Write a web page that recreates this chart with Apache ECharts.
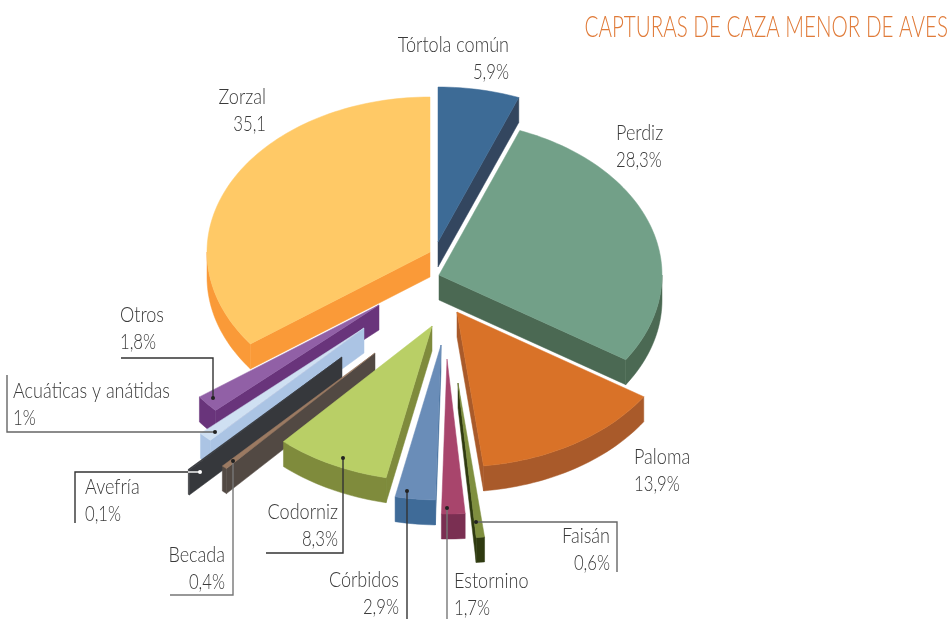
<!DOCTYPE html>
<html>
<head>
<meta charset="utf-8">
<style>html,body{margin:0;padding:0;background:#fff}#main{width:952px;height:619px}</style>
<script src="https://cdn.jsdelivr.net/npm/echarts@6/dist/echarts.min.js"></script>
</head>
<body>
<div id="main"></div>
<script>
// clockwise from 12 o'clock, as in the original
var categories = ['Tórtola común','Perdiz','Paloma','Faisán','Estornino','Córbidos','Codorniz','Becada','Avefría','Acuáticas y anátidas','Otros','Zorzal'];
var shares = [5.9,28.3,13.9,0.6,1.7,2.9,8.3,0.4,0.1,1,1.8,35.1];
var shareLabels = ['5,9%','28,3%','13,9%','0,6%','1,7%','2,9%','8,3%','0,4%','0,1%','1%','1,8%','35,1'];
var titleText = 'CAPTURAS DE CAZA MENOR DE AVES';

// where each exploded wedge's tip sits
var wedgeTips = [[438,242],[439,275],[457,312],[458,383],[447,359],[441,345],[432,326],[375,353],[342,357],[364,328],[379,305],[430,252]];
var topColors = ['#3d6b96','#72a088','#d97228','#7f8f3f','#a8456c','#6a8db8','#b9cf66','#9b7a62','#36383c','#cfe0f2','#9160a6','#ffc966'];
var sideColors = ['#33465f','#4b6953','#a95a2a','#2f3a10','#7a2f52','#3f6b98','#7f8b3c','#524943','#36383c','#abc4e4','#69347b','#fa9a38'];

var RX = 223, RY = 155, DEPTH = 25;
var FONT = 'Lato';

// label anchor: x, y of first line, align
var labelSpots = [[509,45,'right'],[616,133,'left'],[634,457,'left'],[610,536,'right'],[454,581,'left'],[399,580,'right'],[338,512,'right'],[225,555,'right'],[85,487,'left'],[13,391,'left'],[120,315,'left'],[266,97,'right']];
var leaderLines = {
    3: [[617,572],[617,522],[476,522]],
    4: [[447,619],[447,508]],
    5: [[407,619],[407,491]],
    6: [[266,553],[343,553],[343,458]],
    7: [[170,595],[233,595],[233,461]],
    8: [[75,523],[75,472],[188,472]],
    9: [[7,375],[7,432],[215,432]],
    10: [[121,358],[213,358],[213,398]]
};
var leaderColors = { 3: '#666', 4: '#777', 5: '#333', 6: '#333', 7: '#777', 8: '#333', 9: '#666', 10: '#333' };

var total = shares.reduce(function (a, b) { return a + b; }, 0);
var starts = [];
shares.reduce(function (sum, v, i) { starts[i] = sum; return sum + v; }, 0);

function rim(tip, deg, drop) {
    var r = deg * Math.PI / 180;
    return [tip[0] + RX * Math.sin(r), tip[1] - RY * Math.cos(r) + (drop || 0)];
}

function arcPoints(tip, a0, a1, drop) {
    var pts = [], n = Math.max(2, Math.ceil((a1 - a0) / 1.5));
    for (var k = 0; k <= n; k++) pts.push(rim(tip, a0 + (a1 - a0) * k / n, drop));
    return pts;
}

function renderWedge(params, api) {
    var i = params.dataIndex;
    var a0 = starts[i] / total * 360;
    var a1 = a0 + api.value(0) / total * 360;
    var tip = wedgeTips[i];
    var low = [tip[0], tip[1] + DEPTH];
    var z = Math.round(-Math.cos((a0 + a1) / 360 * Math.PI) * 1000) + 2000;
    var side = { fill: sideColors[i], stroke: sideColors[i], lineWidth: 0.5 };
    var children = [];

    function addSide(points) {
        children.push({ type: 'polygon', z2: z, shape: { points: points }, style: side });
    }
    // cut faces, only the ones turned towards the viewer
    if (Math.sin(a0 * Math.PI / 180) < 0) addSide([tip, rim(tip, a0), rim(tip, a0, DEPTH), low]);
    if (Math.sin(a1 * Math.PI / 180) > 0) addSide([tip, rim(tip, a1), rim(tip, a1, DEPTH), low]);
    // outer wall is only seen on the front half
    var f0 = Math.max(a0, 90), f1 = Math.min(a1, 270);
    if (f1 > f0) addSide(arcPoints(tip, f0, f1).concat(arcPoints(tip, f0, f1, DEPTH).reverse()));

    children.push({
        type: 'polygon',
        z2: z + 1,
        shape: { points: [tip].concat(arcPoints(tip, a0, a1)) },
        style: { fill: topColors[i], stroke: topColors[i], lineWidth: 0.5 }
    });
    return { type: 'group', children: children };
}

var graphics = [{
    type: 'text', x: 948, y: 28, z: 50, scaleX: 0.71, silent: true,
    style: { text: titleText, font: '300 29px ' + FONT, fill: '#e07b39', textAlign: 'right', textVerticalAlign: 'middle' }
}];
categories.forEach(function (name, i) {
    var s = labelSpots[i];
    [name, shareLabels[i]].forEach(function (txt, k) {
        graphics.push({
            type: 'text', x: s[0], y: s[1] + k * 27, z: 50, scaleX: k ? 0.76 : 0.82, silent: true,
            style: { text: txt, font: '300 22px ' + FONT, fill: '#3a3a3a', textAlign: s[2], textVerticalAlign: 'middle' }
        });
    });
    var line = leaderLines[i];
    if (line) {
        var end = line[line.length - 1];
        graphics.push({ type: 'polyline', z: 40, silent: true, shape: { points: line }, style: { stroke: leaderColors[i], lineWidth: 1.4, fill: null } });
        if (i !== 8) graphics.push({ type: 'circle', z: 41, silent: true, shape: { cx: end[0], cy: end[1], r: 2 }, style: { fill: '#222' } });
    }
});
// the Avefría leader turns white where it runs over the dark bar
graphics.push({ type: 'polyline', z: 41, silent: true, shape: { points: [[188,472],[200,472]] }, style: { stroke: '#fff', lineWidth: 1.4, fill: null } });
graphics.push({ type: 'circle', z: 42, silent: true, shape: { cx: 200, cy: 472, r: 2 }, style: { fill: '#fff' } });

var chart = echarts.init(document.getElementById('main'));
chart.setOption({
    animation: false,
    backgroundColor: '#fff',
    series: [{
        type: 'custom',
        coordinateSystem: 'none',
        silent: true,
        data: shares.map(function (v) { return [v]; }),
        renderItem: renderWedge
    }],
    graphic: { elements: graphics }
});
</script>
</body>
</html>
